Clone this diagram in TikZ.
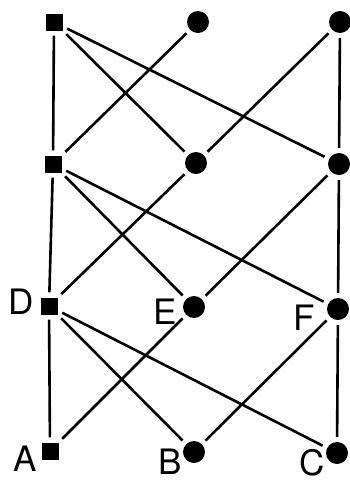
\documentclass[tikz,border=0pt]{standalone}
\usepackage{fontspec}
\setsansfont{TeX Gyre Heros}
\usetikzlibrary{positioning}

\begin{document}
\begin{tikzpicture}[x=1pt, y=-1pt,
    font=\sffamily\fontsize{35}{35}\selectfont,
    edge/.style={line width=2.6pt, black, shorten >=5pt, shorten <=5pt},
    sq/.style={fill=black, minimum size=17pt, inner sep=0pt},
    dot/.style={circle, fill=black, minimum size=22pt, inner sep=0pt},
    every label/.style={inner sep=0pt, text=black},
]
\useasboundingbox (0,0) rectangle (350,483);

% --- columna izquierda: cuadrados ---
\node[sq] (s1) at (54,22) {};
\node[sq] (s2) at (53,164) {};
\node[sq, label={[xshift=-6pt, yshift=4pt]left:D}] (D) at (49,306) {};
\node[sq, label={[xshift=-4pt, yshift=14pt]below left:A}] (A) at (50,451) {};

% --- columnas central y derecha: puntos ---
\node[dot] (m1) at (198,22) {};
\node[dot] (m2) at (196,163) {};
\node[dot, label={[xshift=-6pt, yshift=-5pt]left:E}] (E) at (194,307) {};
\node[dot, label={[xshift=-1pt, yshift=-10pt]left:B}] (B) at (194,452) {};

\node[dot] (r1) at (340,22) {};
\node[dot] (r2) at (339,164) {};
\node[dot, label={[xshift=-12pt, yshift=-9pt]left:F}] (F) at (338,309) {};
\node[dot, label={[xshift=-1pt, yshift=-10pt]left:C}] (C) at (337,453) {};

% todas las aristas
\foreach \a/\b in {s1/s2, s2/D, D/A, r1/r2, r2/F, F/C,
                   s1/m2, s1/r2, m1/s2, r1/m2, m2/D,
                   s2/E, s2/F, r2/E, E/A,
                   D/B, D/C, F/B}
    \draw[edge] (\a) -- (\b);

\end{tikzpicture}
\end{document}
